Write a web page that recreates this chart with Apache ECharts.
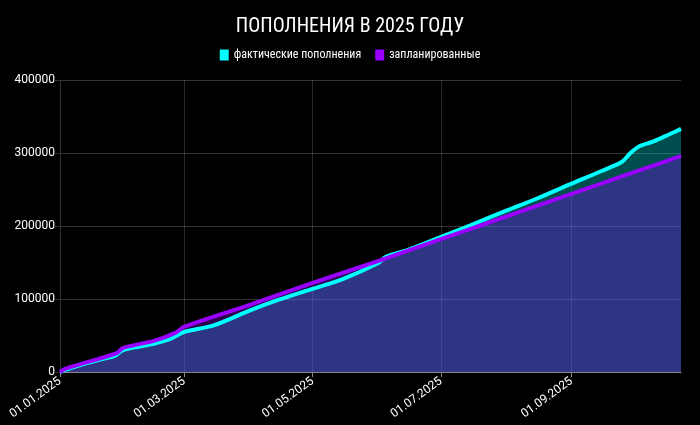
<!DOCTYPE html>
<html>
<head>
<meta charset="utf-8">
<style>
  html, body { margin: 0; padding: 0; background: #000; }
  #chart { width: 700px; height: 425px; }
</style>
<script src="https://cdn.jsdelivr.net/npm/echarts@6/dist/echarts.min.js"></script>
</head>
<body>
<div id="chart"></div>
<script>
// фактические пополнения (дата, сумма)
const factDates = [
  '2025-01-01', '2025-01-08', '2025-01-20', '2025-01-27', '2025-01-31',
  '2025-02-08', '2025-02-15', '2025-02-23', '2025-03-01', '2025-03-15',
  '2025-04-01', '2025-04-15', '2025-05-01', '2025-05-15', '2025-06-01',
  '2025-06-05', '2025-06-15', '2025-07-01', '2025-07-15', '2025-08-01',
  '2025-08-15', '2025-09-01', '2025-09-15', '2025-09-25', '2025-09-29',
  '2025-10-03', '2025-10-10', '2025-10-17', '2025-10-23'
];
const factValues = [
  0, 7000, 17000, 22000, 30000,
  35000, 39000, 46000, 55000, 64000,
  84000, 99000, 114000, 127000, 149000,
  158000, 167000, 185000, 201000, 221000,
  237000, 258000, 275000, 288000, 300000,
  309000, 316000, 325000, 333000
];

// запланированные
const planDates = [
  '2025-01-01', '2025-01-04', '2025-01-28', '2025-01-31', '2025-02-15',
  '2025-02-25', '2025-03-01', '2025-04-01', '2025-05-01', '2025-06-01',
  '2025-07-01', '2025-08-01', '2025-09-01', '2025-10-01', '2025-10-23'
];
const planValues = [
  0, 5000, 26000, 33000, 43000,
  54000, 62000, 92000, 122000, 152000,
  182000, 213000, 244000, 274000, 296000
];

const labelDates = ['2025-01-01', '2025-03-01', '2025-05-01', '2025-07-01', '2025-09-01'];
const startDate = '2025-01-01';
const endDate = '2025-10-23';
const yTicks = [0, 100000, 200000, 300000, 400000];

const DAY = 86400000;
function utc(s) {
  const p = s.split('-');
  return Date.UTC(+p[0], +p[1] - 1, +p[2]);
}
// номер дня от 01.01.2025
function dayNo(s) { return Math.round((utc(s) - utc(startDate)) / DAY); }
function pad(n) { return n < 10 ? '0' + n : '' + n; }
function fmtDay(v) {
  const d = new Date(utc(startDate) + v * DAY);
  return pad(d.getUTCDate()) + '.' + pad(d.getUTCMonth() + 1) + '.' + d.getUTCFullYear();
}

const font = '"Roboto Condensed", "Liberation Sans Narrow", "DejaVu Sans Condensed", Roboto, sans-serif';

const chart = echarts.init(document.getElementById('chart'));
chart.setOption({
  backgroundColor: '#000',
  animation: false,
  title: {
    text: 'ПОПОЛНЕНИЯ В 2025 ГОДУ',
    left: 'center',
    top: 12,
    textStyle: { color: '#fff', fontSize: 20, fontWeight: 'normal', fontFamily: font }
  },
  legend: {
    top: 44,
    left: 'center',
    icon: 'rect',
    itemWidth: 9,
    itemHeight: 11,
    itemGap: 14,
    textStyle: { color: '#fff', fontSize: 12, fontFamily: font },
    data: ['фактические пополнения', 'запланированные']
  },
  grid: { left: 60, right: 19, top: 80, bottom: 53 },
  xAxis: {
    type: 'value',
    min: dayNo(startDate),
    max: dayNo(endDate),
    axisLine: { lineStyle: { color: '#888' } },
    axisTick: { show: true, customValues: labelDates.map(dayNo), lineStyle: { color: '#888' } },
    axisLabel: {
      customValues: labelDates.map(dayNo),
      formatter: fmtDay,
      rotate: 36,
      color: '#fff',
      fontSize: 12,
      fontFamily: 'Roboto, sans-serif'
    },
    splitLine: { show: true, lineStyle: { color: 'rgba(255,255,255,0.16)' } }
  },
  yAxis: {
    type: 'value',
    min: yTicks[0],
    max: yTicks[yTicks.length - 1],
    interval: 100000,
    axisLine: { show: true, lineStyle: { color: '#333' } },
    axisLabel: {
      color: '#fff',
      fontSize: 12,
      margin: 5,
      fontFamily: 'Roboto, sans-serif',
      formatter: (v) => String(v)
    },
    splitLine: { lineStyle: { color: '#333' } }
  },
  series: [
    {
      name: 'фактические пополнения',
      type: 'line',
      smooth: 0.3,
      showSymbol: false,
      color: '#00ffff',
      lineStyle: { width: 4, color: '#00ffff' },
      areaStyle: { color: '#00ffff', opacity: 0.3 },
      data: factDates.map((d, i) => [dayNo(d), factValues[i]])
    },
    {
      name: 'запланированные',
      type: 'line',
      smooth: 0.3,
      showSymbol: false,
      color: '#9900ff',
      lineStyle: { width: 4, color: '#9900ff' },
      areaStyle: { color: '#9900ff', opacity: 0.3 },
      data: planDates.map((d, i) => [dayNo(d), planValues[i]])
    }
  ]
});
</script>
</body>
</html>
